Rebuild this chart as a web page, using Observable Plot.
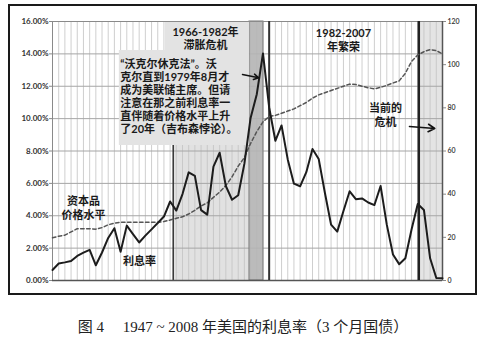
<!DOCTYPE html>
<html><head><meta charset="utf-8">
<script src="https://cdn.jsdelivr.net/npm/d3@7"></script>
<script src="https://cdn.jsdelivr.net/npm/@observablehq/plot@0.6"></script>
<style>
body{margin:0;background:#fff;}
#wrap{position:relative;width:481px;height:347px;overflow:hidden;background:#fff;}
#chart{position:absolute;left:0;top:0;}
#frame{position:absolute;left:8px;top:4px;width:465px;height:287px;border:2px solid #1a1a1a;pointer-events:none;}
#caption{position:absolute;left:0;top:316px;width:486px;text-align:center;font:15px "Liberation Serif","Noto Sans CJK SC",serif;color:#222;white-space:pre;line-height:22px;}
</style></head><body>
<div id="wrap"><div id="chart"></div><div id="frame"></div><div id="caption"></div></div>
<script>
// ---- data ----
const years = [1947,1948,1949,1950,1951,1952,1953,1954,1955,1956,1957,1958,1959,1960,1961,1962,1963,1964,1965,1966,1967,1968,1969,1970,1971,1972,1973,1974,1975,1976,1977,1978,1979,1980,1981,1982,1983,1984,1985,1986,1987,1988,1989,1990,1991,1992,1993,1994,1995,1996,1997,1998,1999,2000,2001,2002,2003,2004,2005,2006,2007,2008,2009,2010];
// 3-month T-bill rate, %
const rate = [0.65,1.05,1.12,1.2,1.52,1.72,1.89,0.94,1.73,2.63,3.23,1.77,3.39,2.87,2.35,2.77,3.16,3.55,3.95,4.88,4.32,5.34,6.68,6.46,4.35,4.07,7.04,7.89,5.84,4.99,5.27,7.22,10.04,11.51,14.03,10.69,8.63,9.58,7.48,5.98,5.82,6.69,8.12,7.51,5.42,3.45,3.02,4.29,5.51,5.02,5.07,4.82,4.66,5.84,3.45,1.61,1.01,1.37,3.15,4.73,4.36,1.37,0.15,0.14];
// capital goods price level (right axis)
const price = [19.8,20.5,21,22.5,24,24,24,23.8,24.5,25.8,26.6,27,27,27,27,27,27,27,27.3,28,28.8,29.5,30.8,32.5,34.5,36,38.5,41,44,48,53,57,63.5,69,73.5,76,76.5,77.5,78.5,79.5,81,82.5,84.5,86,87,88,89,90,91,90.8,90,89.3,88.8,89.5,90.4,91.5,92.5,96,101.5,104.5,106,107,106.5,105];
const leftTicks = [0,2,4,6,8,10,12,14,16];
const rightTicks = [0,20,40,60,80,100,120];
const rightMax = 120;
// shaded periods (years, as drawn)
const stagflation = {from:1966.5, to:1978.82};
const volcker = {from:1978.82, to:1981.08};
const boomStart = 1982.0;
const crisis = {from:2006.17, to:2010};
const title1 = ["1966-1982年","滞胀危机"];
const title2 = ["1982-2007","年繁荣"];
const crisisLabel = ["当前的","危机"];
const priceLabel = ["资本品","价格水平"];
const rateLabel = "利息率";
const quoteLines = ["“沃克尔休克法”。沃","克尔直到1979年8月才","成为美联储主席。但请","注意在那之前利息率一","直伴随着价格水平上升","了20年（吉布森悖论）。"];
const caption = "图 4\u3000 1947 ~ 2008 年美国的利息率（3 个月国债）";

const rows = years.map((y,i)=>({year:y, rate:rate[i], price:price[i]}));
const toY = v => v*16/rightMax;
const font = "Lato, 'Noto Sans CJK SC', sans-serif";

const plot = Plot.plot({
  width: 481, height: 300,
  marginLeft: 52, marginRight: 39, marginTop: 21, marginBottom: 20,
  x: {domain:[1947,2010], axis:null},
  y: {domain:[0,16], axis:null},
  style: {fontFamily: font, background:"transparent", overflow:"visible"},
  marks: [
    Plot.rect([stagflation], {x1:"from", x2:"to", y1:0, y2:16, fill:"#e1e1e1"}),
    Plot.rect([crisis], {x1:"from", x2:"to", y1:0, y2:16, fill:"#e4e4e4"}),
    Plot.ruleX(years, {stroke:"#c3c3c3", strokeWidth:0.8}),
    Plot.ruleY(leftTicks.filter(d=>d>0 && d<16), {stroke:"#a6a6a6", strokeWidth:1}),
    Plot.ruleX([stagflation.from], {stroke:"#333", strokeWidth:1.5}),
    Plot.rect([volcker], {x1:"from", x2:"to", y1:0, y2:16, fill:"#b4b4b4", fillOpacity:0.9, stroke:"#7a7a7a", strokeWidth:1}),
    // annotation boxes
    Plot.rect([{x1:1965.25, x2:stagflation.to, y1:14.2, y2:16}], {x1:"x1", x2:"x2", y1:"y1", y2:"y2", fill:"#e3e3e3"}),
    Plot.rect([{x1:1957.8, x2:stagflation.to, y1:8.34, y2:14.21}], {x1:"x1", x2:"x2", y1:"y1", y2:"y2", fill:"#e3e3e3"}),
    Plot.frame({stroke:"#8a8a8a", strokeWidth:1}),
    Plot.ruleY([0], {stroke:"#555", strokeWidth:1.5}),
    Plot.ruleX([2010], {stroke:"#555", strokeWidth:1.5}),
    Plot.ruleX([boomStart], {stroke:"#333", strokeWidth:2}),
    Plot.ruleX([crisis.from], {stroke:"#222", strokeWidth:2.5}),
    Plot.line(rows, {x:"year", y:d=>toY(d.price), stroke:"#555", strokeWidth:1.5, strokeDasharray:"3.5,2.5"}),
    Plot.line(rows, {x:"year", y:"rate", stroke:"#1c1c1c", strokeWidth:2}),
    // texts
    Plot.text(title1, {x:1971.72, y:(d,i)=>15.32-i*0.8, text:d=>d, fontSize:11, fontWeight:700, fill:"#1a1a1a"}),
    Plot.text(title2, {x:1994.0, y:(d,i)=>15.26-i*0.87, text:d=>d, fontSize:11, fontWeight:700, fill:"#1a1a1a"}),
    Plot.text(crisisLabel, {x:2000.8, y:(d,i)=>10.63-i*0.87, text:d=>d, fontSize:11, fontWeight:700, fill:"#1a1a1a"}),
    Plot.text(priceLabel, {x:1952.0, y:(d,i)=>4.88-i*0.88, text:d=>d, fontSize:11, fontWeight:700, fill:"#1a1a1a"}),
    Plot.text([rateLabel], {x:1961.05, y:1.17, text:d=>d, fontSize:11, fontWeight:700, fill:"#1a1a1a"}),
    Plot.text(quoteLines, {x:1957.95, y:(d,i)=>13.34-i*0.803, text:d=>d, textAnchor:"start", fontSize:11, fontWeight:700, fill:"#1a1a1a"}),
    Plot.arrow([{x1:1977.69, y1:12.73, x2:1980.3, y2:12.52}], {x1:"x1", y1:"y1", x2:"x2", y2:"y2", stroke:"#111", strokeWidth:1.5, headLength:6}),
    Plot.arrow([{x1:2004.67, y1:9.51, x2:2008.75, y2:9.39}], {x1:"x1", y1:"y1", x2:"x2", y2:"y2", stroke:"#111", strokeWidth:1.6, headLength:7}),
    // axes
    Plot.axisY(leftTicks, {anchor:"left", tickFormat:d=>d.toFixed(2)+"%", tickSize:3, tickPadding:1, fontSize:8, fontWeight:700, color:"#333", stroke:"#888"}),
    Plot.axisY(rightTicks.map(toY), {anchor:"right", tickFormat:d=>String(Math.round(d*rightMax/16)), tickSize:3, tickPadding:2, fontSize:7, fontWeight:600, color:"#333", stroke:"#888"})
  ]
});
document.getElementById("chart").appendChild(plot);
document.getElementById("caption").textContent = caption;
</script>
</body></html>
